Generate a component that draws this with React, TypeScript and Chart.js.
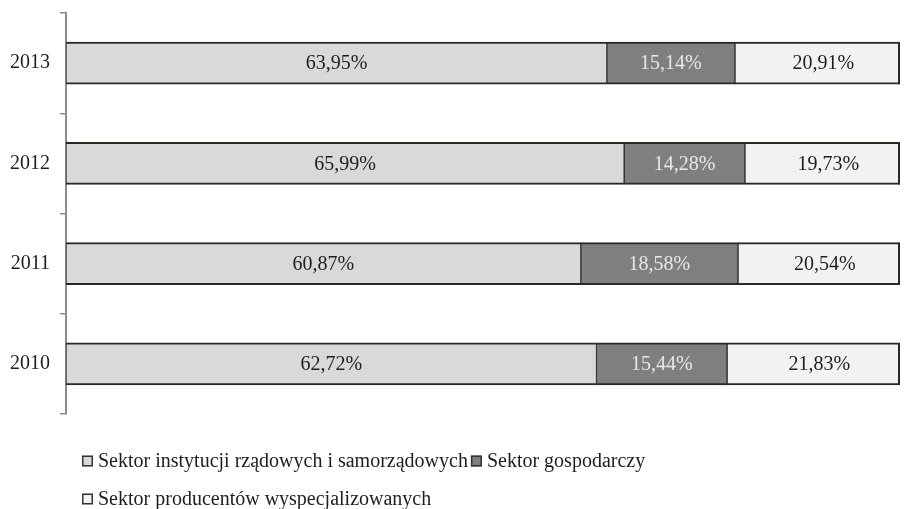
import React, { useEffect, useRef } from 'react';
import { Chart, registerables } from 'chart.js';

Chart.register(...registerables);

const FONT = "'Liberation Serif', 'DejaVu Serif', serif";

const categories = ['2010', '2011', '2012', '2013'];
const seriesNames = [
  'Sektor instytucji rządowych i samorządowych',
  'Sektor gospodarczy',
  'Sektor producentów wyspecjalizowanych',
];
const govValues = [62.72, 60.87, 65.99, 63.95];
const businessValues = [15.44, 18.58, 14.28, 15.14];
const producerValues = [21.83, 20.54, 19.73, 20.91];
const seriesColors = ['#d9d9d9', '#7f7f7f', '#f2f2f2'];
const labelColors = ['#1e1e1e', '#e8e8e8', '#1e1e1e'];
const axisMax = 98.6;

const fmt = (v: number) => v.toFixed(2).replace('.', ',') + '%';

const BORDER = '#2a2a24';

const barLabelPlugin = {
  id: 'barLabels',
  afterDatasetsDraw(chart: any) {
    const { ctx, chartArea } = chart;
    ctx.save();
    // right edge of bars that run past the plot area
    ctx.strokeStyle = BORDER;
    ctx.lineWidth = 2;
    chart.data.datasets.forEach((ds: any, di: number) => {
      const meta = chart.getDatasetMeta(di);
      meta.data.forEach((el: any) => {
        const p = el.getProps(['x', 'y', 'height'], true);
        if (p.x > chartArea.right) {
          ctx.beginPath();
          ctx.moveTo(chartArea.right - 1, p.y - p.height / 2);
          ctx.lineTo(chartArea.right - 1, p.y + p.height / 2);
          ctx.stroke();
        }
      });
    });
    ctx.font = `20px ${FONT}`;
    ctx.textAlign = 'center';
    ctx.textBaseline = 'middle';
    chart.data.datasets.forEach((ds: any, di: number) => {
      const meta = chart.getDatasetMeta(di);
      meta.data.forEach((el: any, i: number) => {
        const p = el.getProps(['x', 'y', 'base'], true);
        ctx.fillStyle = labelColors[di];
        ctx.fillText(fmt(ds.data[i]), (p.x + p.base) / 2, p.y + 1);
      });
    });
    ctx.restore();
  },
};

const legendPlugin = {
  id: 'wrapLegend',
  afterDraw(chart: any) {
    const { ctx, chartArea } = chart;
    ctx.save();
    ctx.font = `20px ${FONT}`;
    ctx.textBaseline = 'middle';
    ctx.textAlign = 'left';
    const startX = chartArea.left + 16;
    const maxX = chartArea.right;
    let x = startX;
    let y = chartArea.bottom + 47;
    const box = 11;
    chart.data.datasets.forEach((ds: any) => {
      const w = box + 5 + ctx.measureText(ds.label).width;
      if (x > startX && x + w > maxX) {
        x = startX;
        y += 38;
      }
      ctx.fillStyle = ds.backgroundColor;
      ctx.fillRect(x, y - box / 2, box, box);
      ctx.strokeStyle = '#333333';
      ctx.lineWidth = 1.5;
      ctx.strokeRect(x + 0.75, y - box / 2 + 0.75, box - 1.5, box - 1.5);
      ctx.fillStyle = '#1e1e1e';
      ctx.fillText(ds.label, x + box + 5, y + 1);
      x += w + 3;
    });
    ctx.restore();
  },
};

export default function App() {
  const ref = useRef<HTMLCanvasElement>(null);
  useEffect(() => {
    if (!ref.current) return;
    const values = [govValues, businessValues, producerValues];
    const chart = new Chart(ref.current, {
      type: 'bar',
      data: {
        labels: categories,
        datasets: values.map((d, i) => ({
          label: seriesNames[i],
          data: d,
          backgroundColor: seriesColors[i],
          borderColor: BORDER,
          borderWidth: { top: 2, bottom: 2, left: 1, right: 1 },
          borderSkipped: false,
          barThickness: 42,
          clip: { left: false, top: false, right: 0, bottom: false },
        })),
      },
      options: {
        indexAxis: 'y',
        responsive: false,
        animation: false,
        events: [],
        layout: { padding: { left: 0, right: 4, top: 13, bottom: 95 } },
        plugins: {
          legend: { display: false },
          tooltip: { enabled: false },
          title: { display: false },
        },
        scales: {
          x: {
            stacked: true,
            display: false,
            min: 0,
            max: axisMax,
          },
          y: {
            stacked: true,
            reverse: true,
            afterFit: (scale: any) => {
              scale.width = 66;
              scale.paddingTop = 0;
              scale.paddingBottom = 0;
            },
            grid: {
              display: true,
              drawOnChartArea: false,
              drawTicks: true,
              tickLength: 6,
              offset: true,
              color: '#8c8c8c',
              lineWidth: 1.5,
            },
            border: { display: true, color: '#8c8c8c', width: 2 },
            ticks: {
              padding: 10,
              color: '#1e1e1e',
              font: { family: FONT, size: 20 },
            },
          },
        },
      },
      plugins: [barLabelPlugin, legendPlugin],
    });
    return () => chart.destroy();
  }, []);
  return (
    <div style={{ position: 'absolute', left: 0, top: 0, width: 904, height: 509, background: '#fff' }}>
      <canvas ref={ref} width={904} height={509} style={{ display: 'block' }} />
    </div>
  );
}
